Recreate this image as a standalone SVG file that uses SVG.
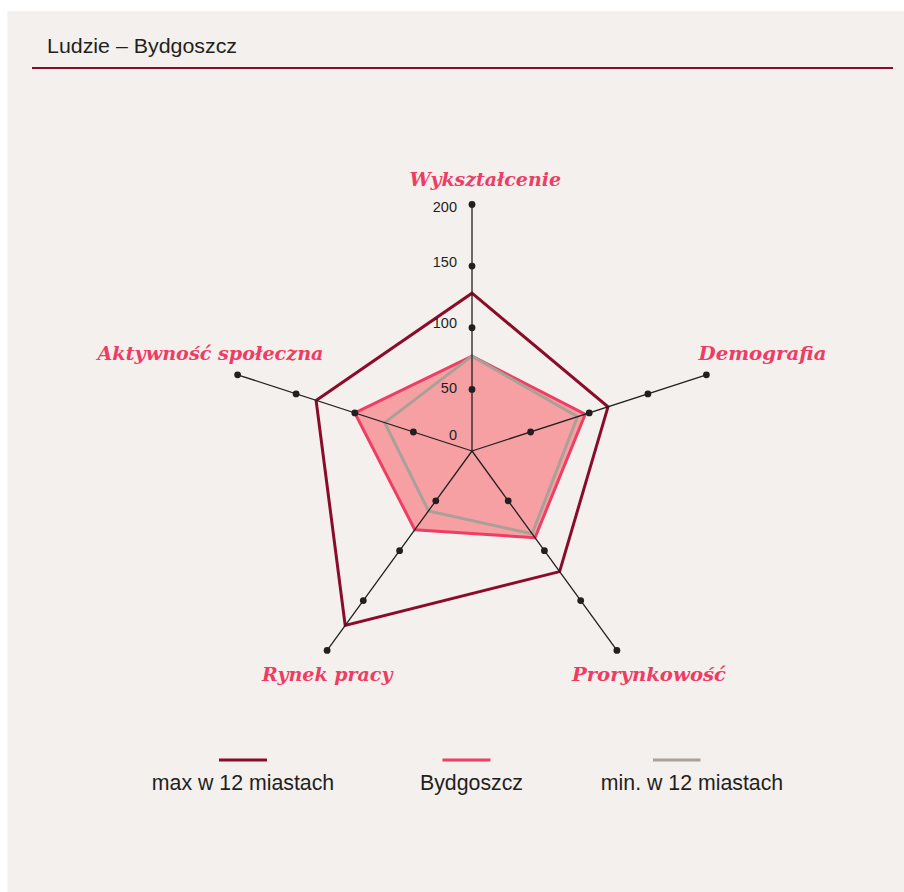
<svg xmlns="http://www.w3.org/2000/svg" width="904" height="892" viewBox="0 0 904 892">
<style>
.axis{stroke:#231f20;stroke-width:1.3;fill:none}
.dot{fill:#231f20}
.tick{font-family:"Liberation Sans",Arial,sans-serif;font-size:14.5px;fill:#231f20;text-anchor:end}
.lab{font-family:"DejaVu Serif","Liberation Serif",serif;font-weight:bold;font-style:italic;font-size:19px;fill:#ee3d64}
.leg{font-family:"Liberation Sans",Arial,sans-serif;font-size:21.3px;fill:#231f20;text-anchor:middle}
.max{stroke:#8a0c2a;stroke-width:3;fill:none;stroke-linejoin:miter}
.city{stroke:#f03e63;stroke-width:3;fill:#f6a0a4;stroke-linejoin:miter}
.min{stroke:#aaa097;stroke-width:3;fill:none;stroke-linejoin:miter}
</style>
<rect x="7.5" y="11" width="896.5" height="881" fill="#f4f0ed"/>
<g id="title">
<text x="47" y="53" font-family="'Liberation Sans',Arial,sans-serif" font-size="20px" fill="#231f20" textLength="190" lengthAdjust="spacingAndGlyphs">Ludzie – Bydgoszcz</text>
<line x1="32" y1="68" x2="893" y2="68" stroke="#8a0c2a" stroke-width="2"/>
</g>
<g id="series">
<polygon id="bydgoszcz" class="city" points="472,356.1 585.2,414.2 535,537.7 414.8,529.8 354.8,412.9"/>
<polygon id="min" class="min" points="472,356.1 577.5,416.7 532.1,533.8 428.5,510.9 384.7,422.6"/>
<polygon id="max" class="max" points="472,293.2 608,406.8 559.6,571.6 345.2,625.5 316.1,400.4"/>
</g>
<g id="connectors">
<line class="axis" x1="472" y1="451" x2="472" y2="204.5"/>
<line class="axis" x1="472" y1="451" x2="706.4" y2="374.8"/>
<line class="axis" x1="472" y1="451" x2="616.9" y2="650.4"/>
<line class="axis" x1="472" y1="451" x2="327.1" y2="650.4"/>
<line class="axis" x1="472" y1="451" x2="237.6" y2="374.8"/>
</g>
<g id="dots">
<circle class="dot" cx="472" cy="389.4" r="3.4"/><circle class="dot" cx="472" cy="327.75" r="3.4"/><circle class="dot" cx="472" cy="266.1" r="3.4"/><circle class="dot" cx="472" cy="204.5" r="3.4"/>
<circle class="dot" cx="530.6" cy="432" r="3.4"/><circle class="dot" cx="589.2" cy="412.9" r="3.4"/><circle class="dot" cx="647.9" cy="393.9" r="3.4"/><circle class="dot" cx="706.4" cy="374.8" r="3.4"/>
<circle class="dot" cx="508.2" cy="500.8" r="3.4"/><circle class="dot" cx="544.4" cy="550.7" r="3.4"/><circle class="dot" cx="580.7" cy="600.6" r="3.4"/><circle class="dot" cx="616.9" cy="650.4" r="3.4"/>
<circle class="dot" cx="435.8" cy="500.8" r="3.4"/><circle class="dot" cx="399.6" cy="550.7" r="3.4"/><circle class="dot" cx="363.3" cy="600.6" r="3.4"/><circle class="dot" cx="327.1" cy="650.4" r="3.4"/>
<circle class="dot" cx="413.4" cy="432" r="3.4"/><circle class="dot" cx="354.8" cy="412.9" r="3.4"/><circle class="dot" cx="296.1" cy="393.9" r="3.4"/><circle class="dot" cx="237.6" cy="374.8" r="3.4"/>
</g>
<g id="ticks">
<text class="tick" x="457" y="212">200</text>
<text class="tick" x="457" y="267">150</text>
<text class="tick" x="457" y="328">100</text>
<text class="tick" x="457" y="393">50</text>
<text class="tick" x="457" y="440">0</text>
</g>
<g id="node-wyksztalcenie"><text class="lab" x="409.5" y="186" textLength="151.5" lengthAdjust="spacingAndGlyphs">Wykształcenie</text></g>
<g id="node-demografia"><text class="lab" x="698.5" y="360" textLength="128" lengthAdjust="spacingAndGlyphs">Demografia</text></g>
<g id="node-prorynkowosc"><text class="lab" x="572" y="681" textLength="154" lengthAdjust="spacingAndGlyphs">Prorynkowość</text></g>
<g id="node-rynek-pracy"><text class="lab" x="262" y="681" textLength="130.5" lengthAdjust="spacingAndGlyphs">Rynek pracy</text></g>
<g id="node-aktywnosc"><text class="lab" x="97.5" y="360" textLength="226" lengthAdjust="spacingAndGlyphs">Aktywność społeczna</text></g>
<g id="legend">
<line x1="219" y1="760" x2="267" y2="760" stroke="#8a0c2a" stroke-width="3"/>
<line x1="442.5" y1="760" x2="490.5" y2="760" stroke="#f03e63" stroke-width="3"/>
<line x1="653" y1="760" x2="700.5" y2="760" stroke="#aaa097" stroke-width="3"/>
<text class="leg" x="243" y="790">max w 12 miastach</text>
<text class="leg" x="471.5" y="790">Bydgoszcz</text>
<text class="leg" x="692" y="790">min. w 12 miastach</text>
</g>
</svg>
